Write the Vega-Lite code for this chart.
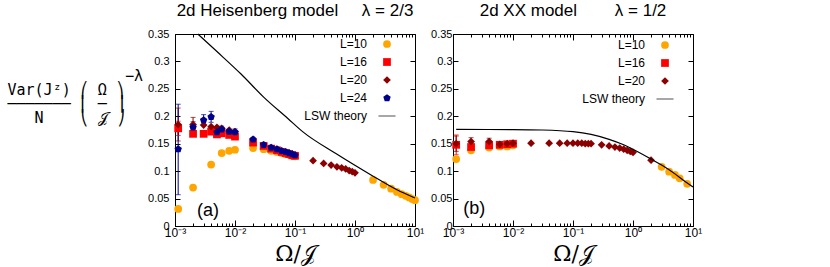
{
  "$schema": "https://vega.github.io/schema/vega-lite/v6.json",
  "padding": {"left": 6, "top": 1, "right": 5, "bottom": 5},
  "background": "white",
  "spacing": 5,
  "config": {
    "font": "Liberation Sans",
    "view": {"stroke": "black", "strokeWidth": 1},
    "axis": {"labelFont": "Liberation Sans", "labelFontSize": 11, "labelColor": "black", "tickColor": "black", "domainColor": "black", "grid": false, "labelOverlap": false},
    "title": {"font": "Liberation Sans", "fontSize": 17, "fontWeight": "normal", "offset": 8, "color": "black"},
    "legend": {"labelFont": "Liberation Sans", "labelFontSize": 12, "labelColor": "black"}
  },
  "datasets": {
    "pts": [
      {"p":"a","L":"L=10","x":0.00113,"y":0.031},{"p":"a","L":"L=10","x":0.002,"y":0.070},{"p":"a","L":"L=10","x":0.004,"y":0.112},{"p":"a","L":"L=10","x":0.006,"y":0.133},{"p":"a","L":"L=10","x":0.008,"y":0.137},{"p":"a","L":"L=10","x":0.01,"y":0.139},{"p":"a","L":"L=10","x":0.02,"y":0.142},{"p":"a","L":"L=10","x":0.03,"y":0.140},{"p":"a","L":"L=10","x":0.04,"y":0.137},{"p":"a","L":"L=10","x":0.05,"y":0.135},{"p":"a","L":"L=10","x":0.06,"y":0.133},{"p":"a","L":"L=10","x":0.07,"y":0.131},{"p":"a","L":"L=10","x":0.08,"y":0.130},{"p":"a","L":"L=10","x":0.09,"y":0.128},{"p":"a","L":"L=10","x":0.1,"y":0.127},{"p":"a","L":"L=10","x":2,"y":0.084},{"p":"a","L":"L=10","x":3,"y":0.075},{"p":"a","L":"L=10","x":4,"y":0.068},{"p":"a","L":"L=10","x":5,"y":0.062},{"p":"a","L":"L=10","x":6,"y":0.058},{"p":"a","L":"L=10","x":7,"y":0.055},{"p":"a","L":"L=10","x":8,"y":0.052},{"p":"a","L":"L=10","x":9,"y":0.049},{"p":"a","L":"L=10","x":10,"y":0.047},
      {"p":"a","L":"L=16","x":0.00113,"y":0.178,"lo":0.165,"hi":0.191},{"p":"a","L":"L=16","x":0.002,"y":0.168},{"p":"a","L":"L=16","x":0.003,"y":0.168},{"p":"a","L":"L=16","x":0.004,"y":0.172},{"p":"a","L":"L=16","x":0.005,"y":0.167},{"p":"a","L":"L=16","x":0.006,"y":0.169},{"p":"a","L":"L=16","x":0.008,"y":0.166},{"p":"a","L":"L=16","x":0.01,"y":0.163},{"p":"a","L":"L=16","x":0.02,"y":0.152},{"p":"a","L":"L=16","x":0.03,"y":0.146},{"p":"a","L":"L=16","x":0.04,"y":0.141},{"p":"a","L":"L=16","x":0.05,"y":0.138},{"p":"a","L":"L=16","x":0.06,"y":0.135},{"p":"a","L":"L=16","x":0.07,"y":0.133},{"p":"a","L":"L=16","x":0.08,"y":0.131},{"p":"a","L":"L=16","x":0.09,"y":0.129},{"p":"a","L":"L=16","x":0.1,"y":0.128},
      {"p":"a","L":"L=20","x":0.00113,"y":0.185,"lo":0.155,"hi":0.215},{"p":"a","L":"L=20","x":0.002,"y":0.185,"lo":0.172,"hi":0.198},{"p":"a","L":"L=20","x":0.003,"y":0.184},{"p":"a","L":"L=20","x":0.004,"y":0.181},{"p":"a","L":"L=20","x":0.005,"y":0.180},{"p":"a","L":"L=20","x":0.006,"y":0.178},{"p":"a","L":"L=20","x":0.008,"y":0.175},{"p":"a","L":"L=20","x":0.01,"y":0.172},{"p":"a","L":"L=20","x":0.2,"y":0.119},{"p":"a","L":"L=20","x":0.3,"y":0.114},{"p":"a","L":"L=20","x":0.4,"y":0.111},{"p":"a","L":"L=20","x":0.5,"y":0.108},{"p":"a","L":"L=20","x":0.6,"y":0.106},{"p":"a","L":"L=20","x":0.7,"y":0.104},{"p":"a","L":"L=20","x":0.8,"y":0.101},{"p":"a","L":"L=20","x":0.9,"y":0.099},{"p":"a","L":"L=20","x":1,"y":0.097},
      {"p":"a","L":"L=24","x":0.00113,"y":0.140,"lo":0.057,"hi":0.222},{"p":"a","L":"L=24","x":0.002,"y":0.180,"lo":0.170,"hi":0.190},{"p":"a","L":"L=24","x":0.003,"y":0.193,"lo":0.183,"hi":0.203},{"p":"a","L":"L=24","x":0.004,"y":0.199,"lo":0.189,"hi":0.209},{"p":"a","L":"L=24","x":0.005,"y":0.171},{"p":"a","L":"L=24","x":0.006,"y":0.176,"lo":0.170,"hi":0.182},{"p":"a","L":"L=24","x":0.008,"y":0.172},{"p":"a","L":"L=24","x":0.01,"y":0.171,"lo":0.165,"hi":0.177},{"p":"a","L":"L=24","x":0.02,"y":0.158},{"p":"a","L":"L=24","x":0.03,"y":0.148},{"p":"a","L":"L=24","x":0.04,"y":0.143},{"p":"a","L":"L=24","x":0.05,"y":0.140},{"p":"a","L":"L=24","x":0.06,"y":0.137},{"p":"a","L":"L=24","x":0.07,"y":0.135},{"p":"a","L":"L=24","x":0.08,"y":0.133},{"p":"a","L":"L=24","x":0.09,"y":0.131},{"p":"a","L":"L=24","x":0.1,"y":0.129},
      {"p":"b","L":"L=10","x":0.00113,"y":0.122},{"p":"b","L":"L=10","x":0.002,"y":0.138},{"p":"b","L":"L=10","x":0.004,"y":0.143},{"p":"b","L":"L=10","x":0.006,"y":0.145},{"p":"b","L":"L=10","x":0.008,"y":0.145},{"p":"b","L":"L=10","x":0.01,"y":0.147},{"p":"b","L":"L=10","x":3,"y":0.108},{"p":"b","L":"L=10","x":4,"y":0.099},{"p":"b","L":"L=10","x":5,"y":0.093},{"p":"b","L":"L=10","x":6,"y":0.087},{"p":"b","L":"L=10","x":8,"y":0.077},
      {"p":"b","L":"L=16","x":0.00113,"y":0.148,"lo":0.130,"hi":0.166},{"p":"b","L":"L=16","x":0.002,"y":0.144},{"p":"b","L":"L=16","x":0.004,"y":0.147},{"p":"b","L":"L=16","x":0.006,"y":0.148},{"p":"b","L":"L=16","x":0.008,"y":0.149},{"p":"b","L":"L=16","x":0.01,"y":0.150},
      {"p":"b","L":"L=20","x":0.00113,"y":0.150,"lo":0.136,"hi":0.164},{"p":"b","L":"L=20","x":0.002,"y":0.154,"lo":0.147,"hi":0.161},{"p":"b","L":"L=20","x":0.004,"y":0.154,"lo":0.148,"hi":0.160},{"p":"b","L":"L=20","x":0.006,"y":0.149},{"p":"b","L":"L=20","x":0.008,"y":0.150},{"p":"b","L":"L=20","x":0.01,"y":0.151},{"p":"b","L":"L=20","x":0.02,"y":0.151},{"p":"b","L":"L=20","x":0.04,"y":0.151},{"p":"b","L":"L=20","x":0.06,"y":0.151},{"p":"b","L":"L=20","x":0.08,"y":0.151},{"p":"b","L":"L=20","x":0.1,"y":0.151},{"p":"b","L":"L=20","x":0.12,"y":0.151},{"p":"b","L":"L=20","x":0.14,"y":0.151},{"p":"b","L":"L=20","x":0.16,"y":0.150},{"p":"b","L":"L=20","x":0.18,"y":0.150},{"p":"b","L":"L=20","x":0.2,"y":0.150},{"p":"b","L":"L=20","x":0.3,"y":0.148},{"p":"b","L":"L=20","x":0.4,"y":0.146},{"p":"b","L":"L=20","x":0.5,"y":0.144},{"p":"b","L":"L=20","x":0.6,"y":0.142},{"p":"b","L":"L=20","x":0.7,"y":0.140},{"p":"b","L":"L=20","x":0.8,"y":0.138},{"p":"b","L":"L=20","x":0.9,"y":0.136},{"p":"b","L":"L=20","x":1,"y":0.134},{"p":"b","L":"L=20","x":2,"y":0.120}
    ],
    "lsw": [
      {"p":"a","x":0.0024,"y":0.350},{"p":"a","x":0.005,"y":0.318},{"p":"a","x":0.0126,"y":0.277},{"p":"a","x":0.03,"y":0.235},{"p":"a","x":0.076,"y":0.196},{"p":"a","x":0.134,"y":0.172},{"p":"a","x":0.48,"y":0.132},{"p":"a","x":1.85,"y":0.093},{"p":"a","x":5,"y":0.066},{"p":"a","x":10,"y":0.051},
      {"p":"b","x":0.00113,"y":0.176},{"p":"b","x":0.01,"y":0.1757},{"p":"b","x":0.03,"y":0.175},{"p":"b","x":0.1,"y":0.172},{"p":"b","x":0.2,"y":0.167},{"p":"b","x":0.4,"y":0.158},{"p":"b","x":0.7,"y":0.148},{"p":"b","x":1,"y":0.140},{"p":"b","x":2,"y":0.122},{"p":"b","x":3,"y":0.111},{"p":"b","x":5,"y":0.095},{"p":"b","x":7,"y":0.083},{"p":"b","x":10,"y":0.071}
    ],
    "ann": [
      {"p":"a","t":"(a)","x":0.00355,"y":0.028},
      {"p":"b","t":"(b)","x":0.00227,"y":0.031}
    ]
  },
  "hconcat": [
    {
      "width": 240, "height": 192,
      "title": "2d Heisenberg model\u00a0\u00a0\u00a0\u00a0\u00a0λ = 2/3",
      "resolve": {"axis": {"x": "independent", "y": "independent"}},
      "layer": [
        {
          "data": {"name": "pts"},
          "transform": [{"filter": "datum.p == 'a' && isValid(datum.lo)"}],
          "mark": {"type": "rule", "strokeWidth": 1},
          "encoding": {
            "x": {"field": "x", "type": "quantitative", "scale": {"type": "log", "domain": [0.001, 10], "nice": false},
              "axis": {"values": [0.001,0.002,0.003,0.004,0.005,0.006,0.007,0.008,0.009,0.01,0.02,0.03,0.04,0.05,0.06,0.07,0.08,0.09,0.1,0.2,0.3,0.4,0.5,0.6,0.7,0.8,0.9,1,2,3,4,5,6,7,8,9,10],
                "labelExpr": "datum.value == 0.001 ? '10⁻³' : datum.value == 0.01 ? '10⁻²' : datum.value == 0.1 ? '10⁻¹' : datum.value == 1 ? '10⁰' : datum.value == 10 ? '10¹' : ''",
                "labelFlush": false, "labelOverlap": false, "labelPadding": 7, "labelFontSize": 12,
                "tickSize": {"condition": {"test": "indexof([0.001,0.01,0.1,1,10], datum.value) >= 0", "value": -6}, "value": -3},
                "title": "Ω/𝒥", "titleFont": "DejaVu Serif", "titleFontSize": 22, "titleFontWeight": "normal", "titlePadding": 2}},
            "y": {"field": "lo", "type": "quantitative", "scale": {"domain": [0, 0.35], "nice": false},
              "axis": {"values": [0,0.05,0.1,0.15,0.2,0.25,0.3,0.35], "format": "~g", "tickSize": -5, "labelPadding": 11, "labelOverlap": false,
                "title": ["\u200b\u00a0\u00a0\u00a0\u00a0\u00a0\u00a0\u00a0\u00a0\u00a0\u00a0\u00a0\u00a0\u00a0−λ", "\u200bVar(Jᶻ)\u00a0⎛\u00a0Ω\u00a0⎞", "\u200b───────\u00a0⎜\u00a0─\u00a0⎟", "\u200b\u00a0\u00a0\u00a0N\u00a0\u00a0\u00a0\u00a0⎝\u00a0𝒥\u00a0⎠"],
                "titleAngle": 0, "titleAlign": "left", "titleBaseline": "top", "titleX": -168, "titleY": 34, "titleFont": "DejaVu Sans Mono", "titleFontSize": 15, "titleFontWeight": "normal", "titleLineHeight": 14}},
            "y2": {"field": "hi"},
            "stroke": {"field": "L", "type": "nominal", "legend": null, "scale": {"domain": ["L=10","L=16","L=20","L=24"], "range": ["#ffa500","#ff0000","#8b0000","#00008b"]}}
          }
        },
        {
          "data": {"name": "pts"},
          "transform": [{"filter": "datum.p == 'a' && isValid(datum.lo)"}, {"fold": ["lo", "hi"], "as": ["k", "v"]}],
          "mark": {"type": "tick", "orient": "horizontal", "size": 5, "thickness": 1},
          "encoding": {
            "x": {"field": "x", "type": "quantitative", "axis": null},
            "y": {"field": "v", "type": "quantitative", "axis": null},
            "fill": {"field": "L", "type": "nominal", "legend": null, "scale": {"domain": ["L=10","L=16","L=20","L=24"], "range": ["#ffa500","#ff0000","#8b0000","#00008b"]}}
          }
        },
        {
          "data": {"name": "pts"},
          "transform": [{"filter": "datum.p == 'a'"}],
          "mark": {"type": "point", "filled": true, "size": 60, "opacity": 1},
          "encoding": {
            "x": {"field": "x", "type": "quantitative", "axis": null},
            "y": {"field": "y", "type": "quantitative", "axis": null},
            "color": {"field": "L", "type": "nominal",
              "legend": {"orient": "none", "legendX": 206, "legendY": 4, "title": null, "labelAlign": "right", "labelOffset": -26, "symbolSize": 60, "rowPadding": 6},
              "scale": {"domain": ["L=10","L=16","L=20","L=24","LSW theory"], "range": ["#ffa500","#ff0000","#8b0000","#00008b","#000000"]}},
            "shape": {"field": "L", "type": "nominal",
              "scale": {"domain": ["L=10","L=16","L=20","L=24","LSW theory"], "range": ["circle","square","diamond","M0,-1L0.951,-0.309L0.588,0.809L-0.588,0.809L-0.951,-0.309Z","M-2.2,-0.09L2.2,-0.09L2.2,0.09L-2.2,0.09Z"]}}
          }
        },
        {
          "data": {"name": "lsw"},
          "transform": [{"filter": "datum.p == 'a'"}],
          "mark": {"type": "line", "color": "black", "strokeWidth": 1.2, "interpolate": "monotone"},
          "encoding": {"x": {"field": "x", "type": "quantitative", "axis": null}, "y": {"field": "y", "type": "quantitative", "axis": null}}
        },
        {
          "data": {"name": "ann"},
          "transform": [{"filter": "datum.p == 'a'"}],
          "mark": {"type": "text", "fontSize": 18, "font": "Liberation Sans", "color": "black"},
          "encoding": {"x": {"field": "x", "type": "quantitative", "axis": null}, "y": {"field": "y", "type": "quantitative", "axis": null}, "text": {"field": "t"}}
        },
        {
          "data": {"name": "lsw"},
          "transform": [{"filter": "datum.p == 'a'"}],
          "mark": {"type": "point", "opacity": 0},
          "encoding": {
            "x": {"field": "x", "type": "quantitative", "axis": {"orient": "top", "labels": false, "title": null, "domain": false,
              "values": [0.001,0.002,0.003,0.004,0.005,0.006,0.007,0.008,0.009,0.01,0.02,0.03,0.04,0.05,0.06,0.07,0.08,0.09,0.1,0.2,0.3,0.4,0.5,0.6,0.7,0.8,0.9,1,2,3,4,5,6,7,8,9,10],
              "tickSize": {"condition": {"test": "indexof([0.001,0.01,0.1,1,10], datum.value) >= 0", "value": -6}, "value": -3}}},
            "y": {"field": "y", "type": "quantitative", "axis": {"orient": "right", "labels": false, "title": null, "domain": false, "values": [0,0.05,0.1,0.15,0.2,0.25,0.3,0.35], "tickSize": -5}}
          }
        }
      ]
    },
    {
      "width": 240, "height": 192,
      "title": "2d XX model\u00a0\u00a0\u00a0\u00a0\u00a0\u00a0\u00a0\u00a0λ = 1/2",
      "resolve": {"axis": {"x": "independent", "y": "independent"}},
      "layer": [
        {
          "data": {"name": "pts"},
          "transform": [{"filter": "datum.p == 'b' && isValid(datum.lo)"}],
          "mark": {"type": "rule", "strokeWidth": 1},
          "encoding": {
            "x": {"field": "x", "type": "quantitative", "scale": {"type": "log", "domain": [0.001, 10], "nice": false},
              "axis": {"values": [0.001,0.002,0.003,0.004,0.005,0.006,0.007,0.008,0.009,0.01,0.02,0.03,0.04,0.05,0.06,0.07,0.08,0.09,0.1,0.2,0.3,0.4,0.5,0.6,0.7,0.8,0.9,1,2,3,4,5,6,7,8,9,10],
                "labelExpr": "datum.value == 0.001 ? '10⁻³' : datum.value == 0.01 ? '10⁻²' : datum.value == 0.1 ? '10⁻¹' : datum.value == 1 ? '10⁰' : datum.value == 10 ? '10¹' : ''",
                "labelFlush": false, "labelOverlap": false, "labelPadding": 7, "labelFontSize": 12,
                "tickSize": {"condition": {"test": "indexof([0.001,0.01,0.1,1,10], datum.value) >= 0", "value": -6}, "value": -3},
                "title": "Ω/𝒥", "titleFont": "DejaVu Serif", "titleFontSize": 22, "titleFontWeight": "normal", "titlePadding": 2}},
            "y": {"field": "lo", "type": "quantitative", "scale": {"domain": [0, 0.35], "nice": false},
              "axis": {"values": [0,0.05,0.1,0.15,0.2,0.25,0.3,0.35], "format": "~g", "tickSize": -5, "labelPadding": 6, "labelOverlap": false, "title": null}},
            "y2": {"field": "hi"},
            "stroke": {"field": "L", "type": "nominal", "legend": null, "scale": {"domain": ["L=10","L=16","L=20"], "range": ["#ffa500","#ff0000","#8b0000"]}}
          }
        },
        {
          "data": {"name": "pts"},
          "transform": [{"filter": "datum.p == 'b' && isValid(datum.lo)"}, {"fold": ["lo", "hi"], "as": ["k", "v"]}],
          "mark": {"type": "tick", "orient": "horizontal", "size": 5, "thickness": 1},
          "encoding": {
            "x": {"field": "x", "type": "quantitative", "axis": null},
            "y": {"field": "v", "type": "quantitative", "axis": null},
            "fill": {"field": "L", "type": "nominal", "legend": null, "scale": {"domain": ["L=10","L=16","L=20"], "range": ["#ffa500","#ff0000","#8b0000"]}}
          }
        },
        {
          "data": {"name": "pts"},
          "transform": [{"filter": "datum.p == 'b'"}],
          "mark": {"type": "point", "filled": true, "size": 60, "opacity": 1},
          "encoding": {
            "x": {"field": "x", "type": "quantitative", "axis": null},
            "y": {"field": "y", "type": "quantitative", "axis": null},
            "color": {"field": "L", "type": "nominal",
              "legend": {"orient": "none", "legendX": 206, "legendY": 5, "title": null, "labelAlign": "right", "labelOffset": -26, "symbolSize": 60, "rowPadding": 6},
              "scale": {"domain": ["L=10","L=16","L=20","LSW theory"], "range": ["#ffa500","#ff0000","#8b0000","#000000"]}},
            "shape": {"field": "L", "type": "nominal",
              "scale": {"domain": ["L=10","L=16","L=20","LSW theory"], "range": ["circle","square","diamond","M-2.2,-0.09L2.2,-0.09L2.2,0.09L-2.2,0.09Z"]}}
          }
        },
        {
          "data": {"name": "lsw"},
          "transform": [{"filter": "datum.p == 'b'"}],
          "mark": {"type": "line", "color": "black", "strokeWidth": 1.2, "interpolate": "monotone"},
          "encoding": {"x": {"field": "x", "type": "quantitative", "axis": null}, "y": {"field": "y", "type": "quantitative", "axis": null}}
        },
        {
          "data": {"name": "ann"},
          "transform": [{"filter": "datum.p == 'b'"}],
          "mark": {"type": "text", "fontSize": 18, "font": "Liberation Sans", "color": "black"},
          "encoding": {"x": {"field": "x", "type": "quantitative", "axis": null}, "y": {"field": "y", "type": "quantitative", "axis": null}, "text": {"field": "t"}}
        },
        {
          "data": {"name": "lsw"},
          "transform": [{"filter": "datum.p == 'b'"}],
          "mark": {"type": "point", "opacity": 0},
          "encoding": {
            "x": {"field": "x", "type": "quantitative", "axis": {"orient": "top", "labels": false, "title": null, "domain": false,
              "values": [0.001,0.002,0.003,0.004,0.005,0.006,0.007,0.008,0.009,0.01,0.02,0.03,0.04,0.05,0.06,0.07,0.08,0.09,0.1,0.2,0.3,0.4,0.5,0.6,0.7,0.8,0.9,1,2,3,4,5,6,7,8,9,10],
              "tickSize": {"condition": {"test": "indexof([0.001,0.01,0.1,1,10], datum.value) >= 0", "value": -6}, "value": -3}}},
            "y": {"field": "y", "type": "quantitative", "axis": {"orient": "right", "labels": false, "title": null, "domain": false, "values": [0,0.05,0.1,0.15,0.2,0.25,0.3,0.35], "tickSize": -5}}
          }
        }
      ]
    }
  ],
  "resolve": {"scale": {"color": "independent", "shape": "independent", "stroke": "independent", "fill": "independent"}, "legend": {"color": "independent", "shape": "independent"}}
}
